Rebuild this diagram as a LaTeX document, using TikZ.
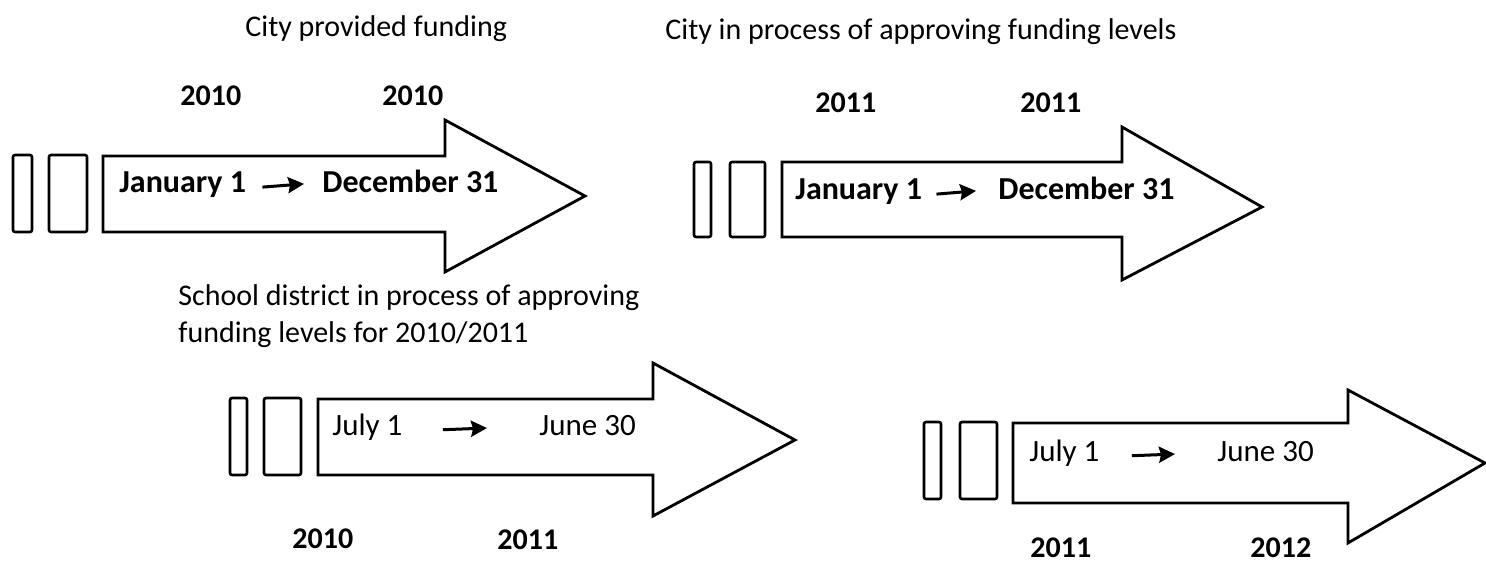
\documentclass[tikz,border=0pt]{standalone}
\usepackage{fontspec}
\setmainfont{Carlito}
\usetikzlibrary{arrows.meta}
\begin{document}
\begin{tikzpicture}[x=0.5pt,y=-0.5pt,
  bigarrow/.style={draw=black, line width=1.4pt, line join=miter, fill=white},
  bar/.style={draw=black, line width=1.3pt, fill=white, rounded corners=1pt},
  txt/.style={font=\fontsize{15}{18}\selectfont, inner sep=0pt, anchor=base west},
  ytxt/.style={txt, font=\fontsize{15}{18}\selectfont\bfseries},
  ltxt/.style={txt, font=\fontsize{15.5}{18}\selectfont},
  btxt/.style={txt, font=\fontsize{16}{18}\selectfont\bfseries},
  small/.style={draw=black, line width=1.5pt, -{Stealth[length=8pt,width=8pt,inset=1pt]}}
]
\useasboundingbox (0,0) rectangle (1486,565);

% ---------- Arrow 1 ----------
\node[txt] (t1) at (245,37) {City provided funding};
\node[ytxt] (y1a) at (180,106) {2010};
\node[ytxt] (y1b) at (382,106) {2010};
\draw[bar] (13,155) rectangle (32,232);
\draw[bar] (49,155) rectangle (87,232);
\draw[bigarrow] (103,156) -- (445,156) -- (445,120) -- (585,196) -- (445,272) -- (445,232) -- (103,232) -- cycle;
\node[btxt] (a1) at (119,193) {January 1};
\node[btxt] (b1) at (322,193) {December 31};
\draw[small] ([xshift=8pt,yshift=-1pt]a1.east) -- ([xshift=-9pt,yshift=-1pt]b1.west);

% ---------- Arrow 2 ----------
\node[txt] (t2) at (665,40) {City in process of approving funding levels};
\node[ytxt] (y2a) at (815,113) {2011};
\node[ytxt] (y2b) at (1020,113) {2011};
\draw[bar] (694,162) rectangle (711,237);
\draw[bar] (730,162) rectangle (765,237);
\draw[bigarrow] (782,162) -- (1122,162) -- (1122,127) -- (1262,207) -- (1122,280) -- (1122,237) -- (782,237) -- cycle;
\node[btxt] (a2) at (795,200) {January 1};
\node[btxt] (b2) at (998,200) {December 31};
\draw[small] ([xshift=7pt,yshift=-1pt]a2.east) -- ([xshift=-11pt,yshift=-1pt]b2.west);

% ---------- Arrow 3 ----------
\node[txt] (t3a) at (178,306) {School district in process of approving};
\node[txt] (t3b) at (178,343) {funding levels for 2010/2011};
\draw[bar] (230,398) rectangle (247,475);
\draw[bar] (264,398) rectangle (301,475);
\draw[bigarrow] (318,399) -- (653,399) -- (653,363) -- (795,440) -- (653,516) -- (653,475) -- (318,475) -- cycle;
\node[ltxt] (a3) at (332,436) {July 1};
\node[ltxt] (b3) at (539,436) {June 30};
\draw[small] ([xshift=20pt,yshift=-1pt]a3.east) -- ([xshift=-26pt,yshift=-1pt]b3.west);
\node[ytxt] (y3a) at (292,548) {2010};
\node[ytxt] (y3b) at (497,550) {2011};

% ---------- Arrow 4 ----------
\draw[bar] (924,422) rectangle (941,499);
\draw[bar] (960,422) rectangle (997,499);
\draw[bigarrow] (1013,423) -- (1348,423) -- (1348,390) -- (1485,463) -- (1348,543) -- (1348,503) -- (1013,503) -- cycle;
\node[ltxt] (a4) at (1029,462) {July 1};
\node[ltxt] (b4) at (1217,462) {June 30};
\draw[small] ([xshift=16pt,yshift=-1pt]a4.east) -- ([xshift=-21pt,yshift=-1pt]b4.west);
\node[ytxt] (y4a) at (1030,557) {2011};
\node[ytxt] (y4b) at (1250,557) {2012};
\end{tikzpicture}
\end{document}
